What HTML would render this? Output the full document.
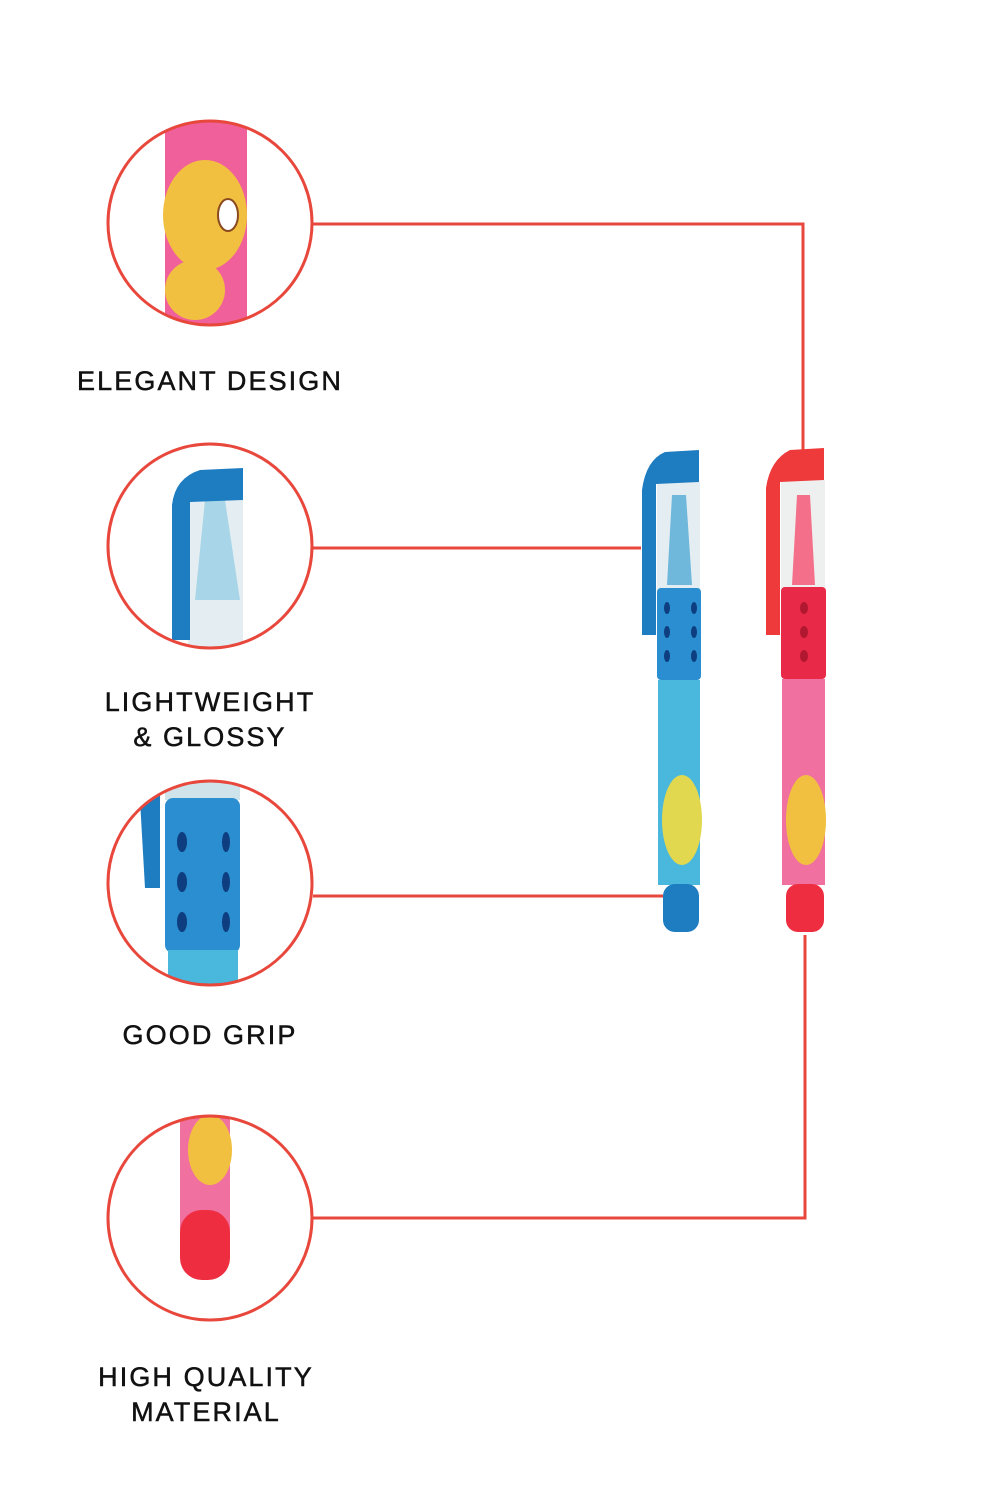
<!DOCTYPE html>
<html><head><style>
html,body{margin:0;padding:0;background:#fff;}
.l{position:absolute;font-family:"Liberation Sans",sans-serif;font-size:27px;letter-spacing:2.1px;color:#111;text-align:center;width:400px;left:10px;line-height:35px;-webkit-text-stroke:0.5px #111;}
</style></head><body>
<div style="position:relative;width:1000px;height:1500px;overflow:hidden;">
<svg width="1000" height="1500" style="position:absolute;left:0;top:0">
<defs>
<clipPath id="c1"><circle cx="210" cy="223" r="101"/></clipPath>
<clipPath id="c2"><circle cx="210" cy="546" r="101"/></clipPath>
<clipPath id="c3"><circle cx="210" cy="883" r="101"/></clipPath>
<clipPath id="c4"><circle cx="210" cy="1218" r="101"/></clipPath>
</defs>
<g fill="none" stroke="#e8473c" stroke-width="3">
<polyline points="313,224 803,224 803,450"/>
<line x1="313" y1="548" x2="641" y2="548"/>
<line x1="313" y1="896" x2="663" y2="896"/>
<polyline points="313,1218 805,1218 805,935"/>
</g>
<g clip-path="url(#c1)">
<rect x="165" y="110" width="82" height="230" fill="#f0609a"/>
<ellipse cx="205" cy="215" rx="42" ry="55" fill="#f2c040"/>
<ellipse cx="228" cy="215" rx="10" ry="16" fill="#fff" stroke="#8a4a20" stroke-width="2"/>
<ellipse cx="195" cy="290" rx="30" ry="30" fill="#f2c040"/>
</g>
<g clip-path="url(#c2)">
<rect x="188" y="480" width="55" height="170" fill="#e4eef2"/>
<path d="M205,500 L225,500 L240,600 L195,600 Z" fill="#a8d6e8"/>
<path d="M172,640 L172,505 Q175,478 200,470 L243,468 L243,500 L190,502 L190,640 Z" fill="#1e7cc0"/>
</g>
<g clip-path="url(#c3)">
<rect x="165" y="770" width="75" height="30" fill="#cfe3ea"/>
<rect x="165" y="798" width="75" height="155" rx="8" fill="#2a8ed0"/>
<rect x="168" y="950" width="70" height="50" fill="#4ab8dc"/>
<path d="M140,800 L160,795 L160,888 L145,888 Z" fill="#1e7cc0"/>
<g fill="#0e3e80"><ellipse cx="182" cy="842" rx="5" ry="10"/><ellipse cx="182" cy="882" rx="5" ry="10"/><ellipse cx="182" cy="922" rx="5" ry="10"/><ellipse cx="226" cy="842" rx="4" ry="10"/><ellipse cx="226" cy="882" rx="4" ry="10"/><ellipse cx="226" cy="922" rx="4" ry="10"/></g>
</g>
<g clip-path="url(#c4)">
<rect x="180" y="1110" width="50" height="120" fill="#f070a0"/>
<ellipse cx="210" cy="1150" rx="22" ry="35" fill="#f2c040"/>
<rect x="180" y="1210" width="50" height="70" rx="22" fill="#ee2e40"/>
</g>
<g fill="none" stroke="#e8473c" stroke-width="3">
<circle cx="210" cy="223" r="102"/><circle cx="210" cy="546" r="102"/><circle cx="210" cy="883" r="102"/><circle cx="210" cy="1218" r="102"/>
</g>
<rect x="657" y="482" width="43" height="108" fill="#e4eef2"/>
<path d="M672,495 L686,495 L692,585 L667,585 Z" fill="#6fb8dc"/>
<rect x="657" y="588" width="44" height="92" rx="4" fill="#2a8ed0"/>
<g fill="#0e3e80"><ellipse cx="667" cy="608" rx="3" ry="6"/><ellipse cx="667" cy="632" rx="3" ry="6"/><ellipse cx="667" cy="656" rx="3" ry="6"/><ellipse cx="694" cy="608" rx="3" ry="6"/><ellipse cx="694" cy="632" rx="3" ry="6"/><ellipse cx="694" cy="656" rx="3" ry="6"/></g>
<rect x="658" y="680" width="42" height="205" fill="#4ab8dc"/>
<ellipse cx="682" cy="820" rx="20" ry="45" fill="#e2d850"/>
<rect x="663" y="884" width="36" height="48" rx="12" fill="#1e7cc0"/>
<path d="M642,635 L642,490 Q646,460 665,452 L699,450 L699,482 L656,484 L656,635 Z" fill="#1e7cc0"/>
<rect x="781" y="480" width="44" height="108" fill="#eef0f0"/>
<path d="M797,495 L810,495 L815,585 L792,585 Z" fill="#f4708a"/>
<rect x="781" y="587" width="45" height="92" rx="4" fill="#e82a48"/>
<g fill="#b01830"><ellipse cx="804" cy="608" rx="4" ry="6"/><ellipse cx="804" cy="632" rx="4" ry="6"/><ellipse cx="804" cy="656" rx="4" ry="6"/></g>
<rect x="782" y="679" width="43" height="206" fill="#f070a0"/>
<ellipse cx="806" cy="820" rx="20" ry="45" fill="#f2c040"/>
<rect x="786" y="884" width="38" height="48" rx="12" fill="#ee2e40"/>
<path d="M766,635 L766,488 Q770,460 790,450 L824,448 L824,480 L780,482 L780,635 Z" fill="#ee3a3a"/>
</svg>
<div class="l" style="top:364px">ELEGANT DESIGN</div>
<div class="l" style="top:685px">LIGHTWEIGHT<br>&amp; GLOSSY</div>
<div class="l" style="top:1018px">GOOD GRIP</div>
<div class="l" style="top:1360px;left:6px">HIGH QUALITY<br>MATERIAL</div>
</div>
</body></html>
